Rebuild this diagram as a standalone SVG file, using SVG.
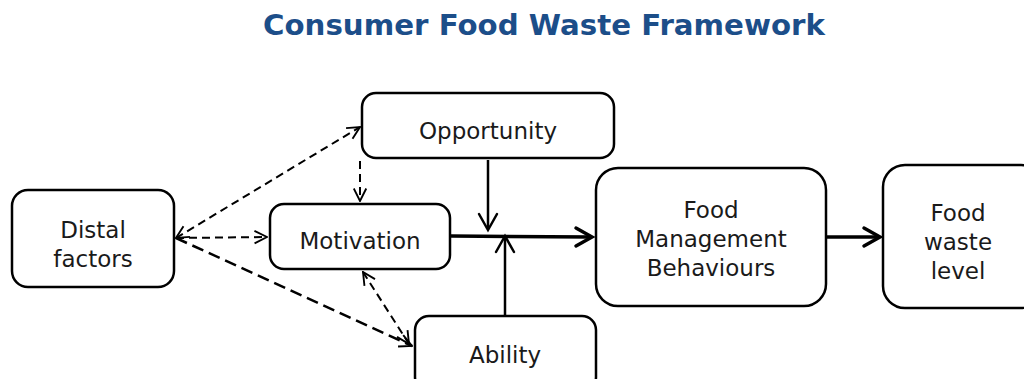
<svg xmlns="http://www.w3.org/2000/svg" width="1024" height="379" viewBox="0 0 1024 379">
  <defs>
    <style>
      .box { fill: #ffffff; stroke: #000000; stroke-width: 2.5; }
      .lbl { font-family: "DejaVu Sans", Verdana, sans-serif; font-size: 23px; fill: #1a1a1a; text-anchor: middle; }
      .title { font-family: "DejaVu Sans", Verdana, sans-serif; font-size: 28px; font-weight: bold; fill: #1c4e89; }
      .solid { fill: none; stroke: #000000; stroke-width: 2.5; }
      .thick { fill: none; stroke: #000000; stroke-width: 3.5; }
      .head { fill: none; stroke: #000000; stroke-width: 2.5; stroke-linecap: round; stroke-linejoin: miter; }
      .headThick { fill: none; stroke: #000000; stroke-width: 3.5; stroke-linecap: round; stroke-linejoin: miter; }
      .dash { fill: none; stroke: #000000; stroke-width: 2; stroke-dasharray: 8 5; }
      .dashBold { fill: none; stroke: #000000; stroke-width: 2.5; stroke-dasharray: 12 6; }
    </style>
    <marker id="open" viewBox="0 0 12 12" refX="11" refY="6" markerWidth="15" markerHeight="15" markerUnits="userSpaceOnUse" orient="auto-start-reverse">
      <path d="M1,1 L11,6 L1,11" fill="none" stroke="#000" stroke-width="1.5"/>
    </marker>
  </defs>

  <rect width="1024" height="379" fill="#ffffff"/>

  <text class="title" x="263" y="35" textLength="562" lengthAdjust="spacingAndGlyphs">Consumer Food Waste Framework</text>

  <g id="distal">
    <rect class="box" x="12" y="190" width="162" height="97" rx="16"/>
    <text class="lbl" x="93" y="238">Distal</text>
    <text class="lbl" x="93" y="267">factors</text>
  </g>

  <g id="opportunity">
    <rect class="box" x="362" y="93" width="252" height="65" rx="14"/>
    <text class="lbl" x="488" y="139">Opportunity</text>
  </g>

  <g id="motivation">
    <rect class="box" x="270" y="204" width="180" height="65" rx="14"/>
    <text class="lbl" x="360" y="249">Motivation</text>
  </g>

  <g id="ability">
    <rect class="box" x="415" y="316" width="181" height="75" rx="14"/>
    <text class="lbl" x="505" y="363">Ability</text>
  </g>

  <g id="behaviours">
    <rect class="box" x="596" y="168" width="230" height="138" rx="22"/>
    <text class="lbl" x="711" y="218">Food</text>
    <text class="lbl" x="711" y="247">Management</text>
    <text class="lbl" x="711" y="276">Behaviours</text>
  </g>

  <g id="waste">
    <rect class="box" x="883" y="165" width="160" height="143" rx="22"/>
    <text class="lbl" x="958" y="221">Food</text>
    <text class="lbl" x="958" y="250">waste</text>
    <text class="lbl" x="958" y="279">level</text>
  </g>

  <g id="connectors">
    <!-- dashed influences from distal factors -->
    <line class="dash" x1="176" y1="238" x2="360" y2="127" marker-start="url(#open)" marker-end="url(#open)"/>
    <line class="dash" x1="176" y1="238" x2="267" y2="237" marker-end="url(#open)"/>
    <line class="dashBold" x1="176" y1="238" x2="412" y2="346" marker-end="url(#open)"/>
    <!-- opportunity to motivation -->
    <line class="dash" x1="360" y1="161" x2="360" y2="201" marker-end="url(#open)"/>
    <!-- motivation and ability -->
    <line class="dash" x1="363" y1="272" x2="409" y2="344" marker-start="url(#open)" marker-end="url(#open)"/>

    <!-- opportunity down onto the main path -->
    <line class="solid" x1="488" y1="160" x2="488" y2="229"/>
    <polyline class="head" points="479,214 488,230 497,214"/>
    <!-- ability up onto the main path -->
    <line class="solid" x1="505" y1="315" x2="505" y2="237"/>
    <polyline class="head" points="496,252 505,236 514,252"/>

    <!-- main causal path -->
    <line class="thick" x1="451" y1="236" x2="591" y2="237"/>
    <polyline class="headThick" points="576,228 592,237 576,246"/>
    <line class="thick" x1="826" y1="237" x2="878" y2="237"/>
    <polyline class="headThick" points="864,228 880,237 864,246"/>
  </g>
</svg>
